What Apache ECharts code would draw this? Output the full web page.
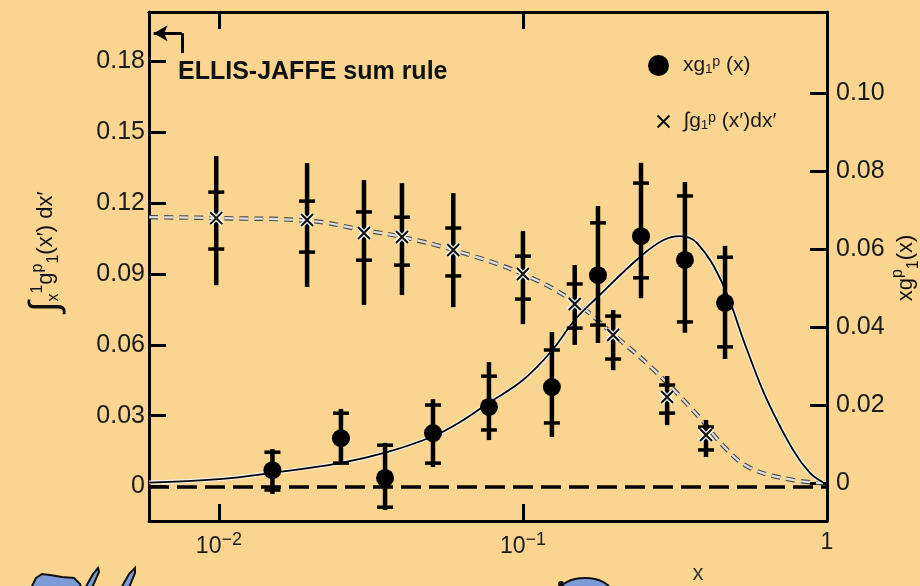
<!DOCTYPE html>
<html>
<head>
<meta charset="utf-8">
<script src="https://cdn.jsdelivr.net/npm/echarts@6/dist/echarts.min.js"></script>
<style>
html, body { margin: 0; padding: 0; background: #f9d590; }
#chart { width: 920px; height: 586px; }
</style>
</head>
<body>
<div id="chart"></div>
<script>
// integral of g1p, left axis (crosses)
const intX = [0.0098, 0.0195, 0.030, 0.040, 0.059, 0.100, 0.148, 0.198, 0.298, 0.400];
const intY = [0.1137, 0.1129, 0.1074, 0.1057, 0.1002, 0.0900, 0.0773, 0.0642, 0.0379, 0.0218];
const intStatLo = [0.1006, 0.0993, 0.0959, 0.0938, 0.0892, 0.0794, 0.0671, 0.0540, 0.0311, 0.0155];
const intStatHi = [0.1247, 0.1209, 0.1163, 0.1141, 0.1095, 0.0976, 0.0858, 0.0722, 0.0430, 0.0252];
const intTotLo = [0.0853, 0.0845, 0.0769, 0.0811, 0.0760, 0.0688, 0.0600, 0.0493, 0.0260, 0.0125];
const intTotHi = [0.1400, 0.1370, 0.1298, 0.1285, 0.1243, 0.1082, 0.0938, 0.0748, 0.0468, 0.0282];

// x*g1p, right axis (dots)
const xgX = [0.0150, 0.0252, 0.0352, 0.0506, 0.0773, 0.1245, 0.1765, 0.2445, 0.341, 0.462];
const xgY = [0.0033, 0.0115, 0.0013, 0.0128, 0.0195, 0.0246, 0.0533, 0.0633, 0.0572, 0.0462];
const xgStatLo = [-0.0018, 0.0051, -0.0062, 0.0051, 0.0136, 0.0154, 0.0405, 0.0526, 0.0413, 0.0349];
const xgStatHi = [0.0079, 0.0179, 0.0097, 0.0200, 0.0274, 0.0341, 0.0667, 0.0769, 0.0736, 0.0579];
const xgTotLo = [-0.0028, 0.0051, -0.0069, 0.0041, 0.0110, 0.0118, 0.0359, 0.0474, 0.0385, 0.0318];
const xgTotHi = [0.0087, 0.0190, 0.0103, 0.0215, 0.0310, 0.0387, 0.0710, 0.0821, 0.0772, 0.0608];

// fit curves
const intFitX = [0.0059, 0.01, 0.02, 0.03, 0.04, 0.059, 0.1, 0.148, 0.2, 0.27, 0.38, 0.46, 0.56, 0.77, 0.97];
const intFitY = [0.1141, 0.1137, 0.1125, 0.1086, 0.1057, 0.1002, 0.0900, 0.0781, 0.064, 0.0493, 0.0294, 0.0167, 0.0078, 0.0028, 0.0015];
const xgFitX = [0.0059, 0.01, 0.015, 0.025, 0.035, 0.05, 0.062, 0.077, 0.1, 0.125, 0.148, 0.176, 0.242, 0.29, 0.329, 0.374, 0.452, 0.546, 0.635, 0.773, 0.879, 0.97];
const xgFitY = [0.0001, 0.001, 0.0026, 0.0051, 0.0077, 0.0118, 0.0156, 0.0205, 0.0264, 0.0341, 0.0418, 0.0477, 0.0579, 0.0623, 0.0633, 0.0615, 0.0513, 0.0341, 0.0213, 0.0085, 0.0026, 0.0002];

// Ellis-Jaffe prediction marker
const ellisJaffe = 0.192;

const xTicks = [0.01, 0.1, 1];
const leftTicks = [0, 0.03, 0.06, 0.09, 0.12, 0.15, 0.18];
const rightTicks = [0, 0.02, 0.04, 0.06, 0.08, 0.10];

const xgName = 'xg₁ᵖ (x)';
const intName = '∫g₁ᵖ (x′)dx′';
const font = 'Liberation Sans, Arial, sans-serif';
const crossPath = 'path://M0,0L10,10M10,0L0,10';

const chart = echarts.init(document.getElementById('chart'));

function zip(...cols) {
    return cols[0].map((_, i) => cols.map(c => c[i]));
}

function renderErr(params, api) {
    const x = api.value(0);
    const top = api.coord([x, api.value(5)]);
    const bot = api.coord([x, api.value(4)]);
    const sHi = api.coord([x, api.value(3)]);
    const sLo = api.coord([x, api.value(2)]);
    const w = 8;
    const tick = { stroke: '#000', lineWidth: 3.5 };
    return {
        type: 'group',
        children: [
            { type: 'line', shape: { x1: top[0], y1: top[1], x2: bot[0], y2: bot[1] }, style: { stroke: '#000', lineWidth: 4.5 } },
            { type: 'line', shape: { x1: sHi[0] - w, y1: sHi[1], x2: sHi[0] + w, y2: sHi[1] }, style: tick },
            { type: 'line', shape: { x1: sLo[0] - w, y1: sLo[1], x2: sLo[0] + w, y2: sLo[1] }, style: tick }
        ]
    };
}

const axisLine = { show: true, onZero: false, lineStyle: { color: '#000', width: 3 } };
const tickStyle = { color: '#000', width: 3 };

chart.setOption({
    backgroundColor: '#f9d590',
    animation: false,
    grid: { left: 149, right: 93, top: 12, bottom: 65 },
    title: {
        text: 'ELLIS-JAFFE sum rule',
        left: 173,
        top: 55,
        textStyle: { fontSize: 25, fontWeight: 'bold', color: '#111', fontFamily: font }
    },
    legend: [
        {
            data: [{ name: xgName, icon: 'circle', itemStyle: { color: '#000', opacity: 1 } }],
            left: 643, top: 50,
            itemWidth: 21, itemHeight: 21,
            selectedMode: false,
            textStyle: { fontSize: 21, color: '#1a1a1a', fontFamily: font, padding: [0, 0, 0, 9] }
        },
        {
            data: [{ name: intName, icon: crossPath, itemStyle: { color: 'none', borderColor: '#111', borderWidth: 2, opacity: 1 } }],
            left: 650, top: 106,
            itemWidth: 12, itemHeight: 12,
            selectedMode: false,
            textStyle: { fontSize: 21, color: '#1a1a1a', fontFamily: font, padding: [0, 0, 0, 9] }
        }
    ],
    xAxis: [
        {
            type: 'log', min: 0.00589, max: 1, position: 'bottom',
            axisLine: axisLine,
            axisTick: { show: true, inside: true, length: 17, lineStyle: tickStyle, customValues: [0.01, 0.1] },
            axisLabel: {
                customValues: xTicks,
                margin: 10,
                formatter: v => v >= 1 ? '{b|1}' : '{b|10}{s|−' + Math.round(-Math.log10(v)) + '}',
                rich: {
                    b: { fontSize: 23, color: '#1a1a1a', fontFamily: font },
                    s: { fontSize: 18, color: '#1a1a1a', fontFamily: font, padding: [0, 0, 14, 0] }
                }
            },
            splitLine: { show: false },
            minorTick: { show: false }
        },
        {
            type: 'log', min: 0.00589, max: 1, position: 'top',
            axisLine: axisLine,
            axisTick: { show: true, inside: true, length: 17, lineStyle: tickStyle, customValues: [0.01, 0.1] },
            axisLabel: { show: false },
            splitLine: { show: false }
        }
    ],
    yAxis: [
        {
            type: 'value', position: 'left', min: -0.0146, max: 0.201,
            axisLine: axisLine,
            axisTick: { show: true, inside: true, length: 17, lineStyle: tickStyle, customValues: leftTicks },
            axisLabel: {
                customValues: leftTicks, margin: 4,
                formatter: v => v === 0 ? '0' : v.toFixed(2),
                fontSize: 25, color: '#1a1a1a', fontFamily: font
            },
            splitLine: { show: false }
        },
        {
            type: 'value', position: 'right', min: -0.00974, max: 0.12077,
            axisLine: axisLine,
            axisTick: { show: true, inside: true, length: 17, lineStyle: tickStyle, customValues: rightTicks },
            axisLabel: {
                customValues: rightTicks, margin: 9,
                formatter: v => v === 0 ? '0' : v.toFixed(2),
                fontSize: 25, color: '#1a1a1a', fontFamily: font
            },
            splitLine: { show: false }
        }
    ],
    graphic: [
        {
            type: 'text', x: 46, y: 252, rotation: Math.PI / 2,
            style: {
                text: '{i|∫}{lo|x}{hi|1}{t|g}{hi|p}{lo|1}{t|(x′) dx′}',
                align: 'center', verticalAlign: 'middle',
                rich: {
                    i: { fontSize: 40, fill: '#111', fontFamily: font },
                    t: { fontSize: 22, fill: '#111', fontFamily: font },
                    hi: { fontSize: 16, fill: '#111', fontFamily: font, padding: [0, 0, 16, 0] },
                    lo: { fontSize: 16, fill: '#111', fontFamily: font, padding: [16, 0, 0, 0] }
                }
            }
        },
        {
            type: 'text', x: 906, y: 268, rotation: Math.PI / 2,
            style: {
                text: '{t|xg}{hi|p}{lo|1}{t|(x)}',
                align: 'center', verticalAlign: 'middle',
                rich: {
                    t: { fontSize: 22, fill: '#111', fontFamily: font },
                    hi: { fontSize: 16, fill: '#111', fontFamily: font, padding: [0, 0, 16, 0] },
                    lo: { fontSize: 16, fill: '#111', fontFamily: font, padding: [16, 0, 0, 0] }
                }
            }
        },
        {
            type: 'text', x: 698, y: 574,
            style: { text: 'x', fontSize: 22, fill: '#333', fontFamily: font, align: 'center', verticalAlign: 'middle' }
        },
        // clip-art pieces cut off at the bottom of the slide
        {
            type: 'polygon',
            shape: { points: [[30, 590], [36, 578], [42, 574], [50, 575], [62, 577], [74, 578], [80, 584], [82, 590]] },
            style: { fill: '#7d9bd6', stroke: '#111', lineWidth: 2 }
        },
        {
            type: 'polygon',
            shape: { points: [[84, 590], [93, 574], [98, 568], [99, 572], [91, 590]] },
            style: { fill: '#7d9bd6', stroke: '#111', lineWidth: 2 }
        },
        {
            type: 'polygon',
            shape: { points: [[120, 590], [129, 574], [135, 568], [135, 573], [128, 590]] },
            style: { fill: '#7d9bd6', stroke: '#111', lineWidth: 2 }
        },
        {
            type: 'ellipse',
            shape: { cx: 585, cy: 592, rx: 26, ry: 14 },
            style: { fill: '#7d9bd6', stroke: '#111', lineWidth: 2 }
        },
        {
            type: 'circle',
            shape: { cx: 561, cy: 584, r: 3 },
            style: { fill: '#111' }
        }
    ],
    series: [
        {
            name: 'integral fit',
            type: 'line', xAxisIndex: 0, yAxisIndex: 0,
            data: zip(intFitX, intFitY),
            showSymbol: false, smooth: 0.4, silent: true, z: 2,
            color: '#4a4a4a',
            lineStyle: { color: '#4a4a4a', width: 4.5, type: [9, 6] },
            markLine: {
                silent: true, symbol: ['none', 'none'], animation: false,
                label: { show: false },
                data: [
                    { yAxis: 0, lineStyle: { color: '#000', width: 3.5, type: [20, 8] } },
                    [
                        { coord: [0.00755, 0.1836], symbol: 'none', lineStyle: { color: '#000', width: 3, type: 'solid' } },
                        { coord: [0.00755, ellisJaffe], symbol: 'none' }
                    ],
                    [
                        { coord: [0.00755, ellisJaffe], symbol: 'none', lineStyle: { color: '#000', width: 3, type: 'solid' } },
                        { coord: [0.0061, ellisJaffe], symbol: 'arrow', symbolSize: [12, 14] }
                    ]
                ]
            }
        },
        {
            name: 'integral fit light',
            type: 'line', xAxisIndex: 0, yAxisIndex: 0,
            data: zip(intFitX, intFitY),
            showSymbol: false, smooth: 0.4, silent: true, z: 3,
            color: '#e0e0e0',
            lineStyle: { color: '#e0e0e0', width: 2.2, type: [9, 6] }
        },
        {
            name: 'xg fit halo',
            type: 'line', xAxisIndex: 0, yAxisIndex: 1,
            data: zip(xgFitX, xgFitY),
            showSymbol: false, smooth: 0.4, silent: true, z: 2,
            color: '#f2f2f2',
            lineStyle: { color: '#f2f2f2', width: 4 }
        },
        {
            name: 'xg fit',
            type: 'line', xAxisIndex: 0, yAxisIndex: 1,
            data: zip(xgFitX, xgFitY),
            showSymbol: false, smooth: 0.4, silent: true, z: 3,
            color: '#000',
            lineStyle: { color: '#000', width: 1.8 }
        },
        {
            name: 'integral errors',
            type: 'custom', xAxisIndex: 0, yAxisIndex: 0,
            renderItem: renderErr,
            encode: { x: 0, y: 1 },
            data: zip(intX, intY, intStatLo, intStatHi, intTotLo, intTotHi),
            z: 4
        },
        {
            name: 'xg errors',
            type: 'custom', xAxisIndex: 0, yAxisIndex: 1,
            renderItem: renderErr,
            encode: { x: 0, y: 1 },
            data: zip(xgX, xgY, xgStatLo, xgStatHi, xgTotLo, xgTotHi),
            z: 4
        },
        {
            name: 'cross halo',
            type: 'scatter', xAxisIndex: 0, yAxisIndex: 0,
            data: zip(intX, intY),
            symbol: crossPath, symbolSize: 12, silent: true, z: 5,
            itemStyle: { color: 'none', borderColor: 'rgba(255,255,255,0.85)', borderWidth: 5, opacity: 1 }
        },
        {
            name: intName,
            type: 'scatter', xAxisIndex: 0, yAxisIndex: 0,
            data: zip(intX, intY),
            symbol: crossPath, symbolSize: 12, z: 6,
            itemStyle: { color: 'none', borderColor: '#111', borderWidth: 2, opacity: 1 }
        },
        {
            name: xgName,
            type: 'scatter', xAxisIndex: 0, yAxisIndex: 1,
            data: zip(xgX, xgY),
            symbol: 'circle', symbolSize: 18, z: 6,
            itemStyle: { color: '#000', opacity: 1 }
        }
    ]
});
</script>
</body>
</html>
